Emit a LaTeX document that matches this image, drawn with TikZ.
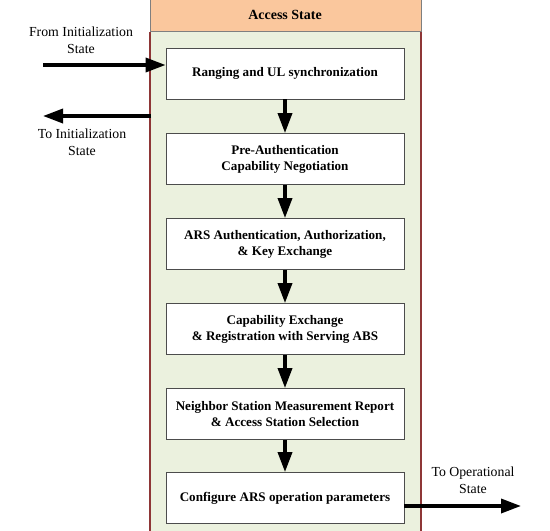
\documentclass[tikz,border=0pt]{standalone}
\usepackage{fontspec}
\setmainfont{Liberation Serif}
\usetikzlibrary{arrows.meta}
\definecolor{hdrfill}{HTML}{FAC79D}
\definecolor{bodyfill}{HTML}{EBF1DE}
\definecolor{bodyline}{HTML}{8E3636}
\definecolor{hdrline}{HTML}{7F7F7F}
\tikzset{
  stepbox/.style={draw=black!70, line width=0.8pt, fill=white, minimum width=238pt, minimum height=51pt, align=center, font=\fontsize{13.1}{16}\selectfont\bfseries, inner sep=0pt},
  flow/.style={line width=3.5pt, -{Triangle[length=20pt,width=14pt]}},
  lbl/.style={align=center, font=\fontsize{13.8}{17}\selectfont, inner sep=0pt}
}
\begin{document}
\begin{tikzpicture}[x=1pt,y=-1pt]
\useasboundingbox (0,0) rectangle (550,531);
% container
\fill[bodyfill] (150,32) rectangle (421,540);
\draw[bodyline, line width=1.3pt] (150,32) -- (150,540);
\draw[bodyline, line width=1.3pt] (421,32) -- (421,540);
\node[draw=hdrline, fill=hdrfill, line width=0.8pt, minimum width=271pt, minimum height=40pt, anchor=south west, inner sep=0pt] (hdr) at (150,32) {};
\node[font=\fontsize{14}{16}\selectfont\bfseries] (hdrtext) at (285,15) {Access State};
% steps
\node[stepbox] (s1) at (285,73.5) {Ranging and UL synchronization};
\node[stepbox] (s2) at (285,159) {Pre-Authentication\\Capability Negotiation};
\node[stepbox] (s3) at (285,244) {ARS Authentication, Authorization,\\\& Key Exchange};
\node[stepbox] (s4) at (285,329) {Capability Exchange\\\& Registration with Serving ABS};
\node[stepbox] (s5) at (285,414) {Neighbor Station Measurement Report\\\& Access Station Selection};
\node[stepbox] (s6) at (285,498) {Configure ARS operation parameters};
\draw[flow] (s1) -- (s2);
\draw[flow] (s2) -- (s3);
\draw[flow] (s3) -- (s4);
\draw[flow] (s4) -- (s5);
\draw[flow] (s5) -- (s6);
% external arrows
\coordinate (fromstart) at (43,65);
\coordinate (toend) at (43,116);
\coordinate (tostart) at (151,116);
\coordinate (opend) at (521,506);
\draw[flow] (fromstart) -- (fromstart -| s1.west);
\draw[flow] (tostart) -- (toend);
\draw[flow] (s6.east |- opend) -- (opend);
\node[lbl] (lfrom) at (81,40) {From Initialization\\State};
\node[lbl] (lto) at (82,142) {To Initialization\\State};
\node[lbl] (lop) at (473,480) {To Operational\\State};
\end{tikzpicture}
\end{document}
